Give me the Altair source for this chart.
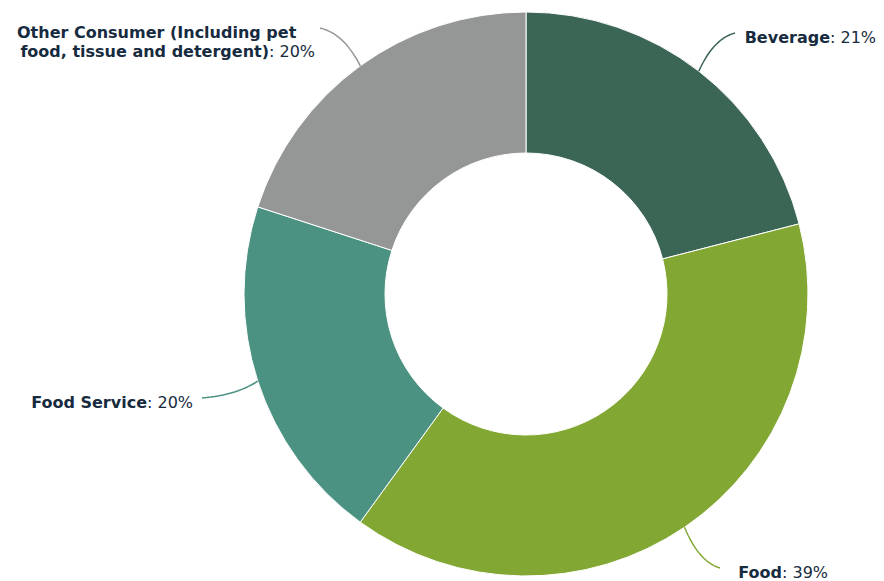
import altair as alt
import pandas as pd
import numpy as np

# ---- data ----
categories = ["Beverage", "Food", "Food Service",
              "Other Consumer (Including pet food, tissue and detergent)"]
shares = [21, 39, 20, 20]
name_lines = [["Beverage"], ["Food"], ["Food Service"],
              ["Other Consumer (Including pet", "food, tissue and detergent)"]]
suffixes = [": 21%", ": 39%", ": 20%", ": 20%"]

# ---- style / layout ----
colors = ["#3b6555", "#82a833", "#4b9283", "#959796"]
TEXT = "#172b40"
FONT = "DejaVu Sans"
FS = 16
W, H = 868, 573
OFF = 8  # page margin
CX, CY = 526 - OFF, 294 - OFF
R_OUT, R_IN = 282, 141
# connector end points (page coords) and label boundary (name | suffix) positions
conn_end = [(735, 33), (720, 568), (202, 398), (320, 28)]
label_bound = [(830, 38), (782, 573), (147, 403), (269, 52)]
first_line_left = (17, 33)

df = pd.DataFrame({"category": categories, "share": shares, "idx": range(len(shares))})

arc = alt.Chart(df).mark_arc(outerRadius=R_OUT, innerRadius=R_IN,
                             stroke="white", strokeWidth=1).encode(
    theta=alt.Theta("share:Q", stack=True),
    color=alt.Color("category:N", scale=alt.Scale(domain=categories, range=colors), legend=None),
    order=alt.Order("idx:Q"),
    x=alt.value(CX), y=alt.value(CY),
)

# connectors derived from slice mid-angles
total = sum(shares)
rows = []
cum = 0
for i, (c, s) in enumerate(zip(categories, shares)):
    mid = 2 * np.pi * (cum + s / 2) / total
    cum += s
    sx, sy = CX + R_OUT * np.sin(mid), CY - R_OUT * np.cos(mid)
    ex, ey = conn_end[i][0] - OFF, conn_end[i][1] - OFF
    kx, ky = sx * 0.6 + ex * 0.4, ey * 0.85 + sy * 0.15
    for j, t in enumerate(np.linspace(0, 1, 16)):
        px = (1 - t) ** 2 * sx + 2 * (1 - t) * t * kx + t ** 2 * ex
        py = (1 - t) ** 2 * sy + 2 * (1 - t) * t * ky + t ** 2 * ey
        rows.append({"category": c, "k": j, "px": px, "py": py})
cdf = pd.DataFrame(rows)

conn = alt.Chart(cdf).mark_line(strokeWidth=1.5).encode(
    x=alt.X("px:Q", scale=None, axis=None),
    y=alt.Y("py:Q", scale=None, axis=None),
    color=alt.Color("category:N", scale=alt.Scale(domain=categories, range=colors), legend=None),
    detail="category:N",
    order="k:Q",
)

# labels
names = pd.DataFrame({
    "t": [nl[-1] for nl in name_lines],
    "px": [b[0] - OFF for b in label_bound],
    "py": [b[1] - OFF for b in label_bound],
})
sufs = pd.DataFrame({
    "t": suffixes,
    "px": [b[0] - OFF for b in label_bound],
    "py": [b[1] - OFF for b in label_bound],
})
first = pd.DataFrame({"t": [name_lines[3][0]], "px": [first_line_left[0] - OFF],
                      "py": [first_line_left[1] - OFF]})

def txt(d, align, weight):
    return alt.Chart(d).mark_text(align=align, baseline="middle", font=FONT, fontSize=FS,
                                  fontWeight=weight, color=TEXT).encode(
        x=alt.X("px:Q", scale=None, axis=None),
        y=alt.Y("py:Q", scale=None, axis=None),
        text="t:N",
    )

chart = alt.layer(
    arc, conn,
    txt(names, "right", "bold"),
    txt(sufs, "left", "normal"),
    txt(first, "left", "bold"),
).properties(width=W, height=H, padding=0, autosize="none").configure_view(stroke=None)

chart.save("out.html", embed_options={"renderer": "svg", "actions": False})
